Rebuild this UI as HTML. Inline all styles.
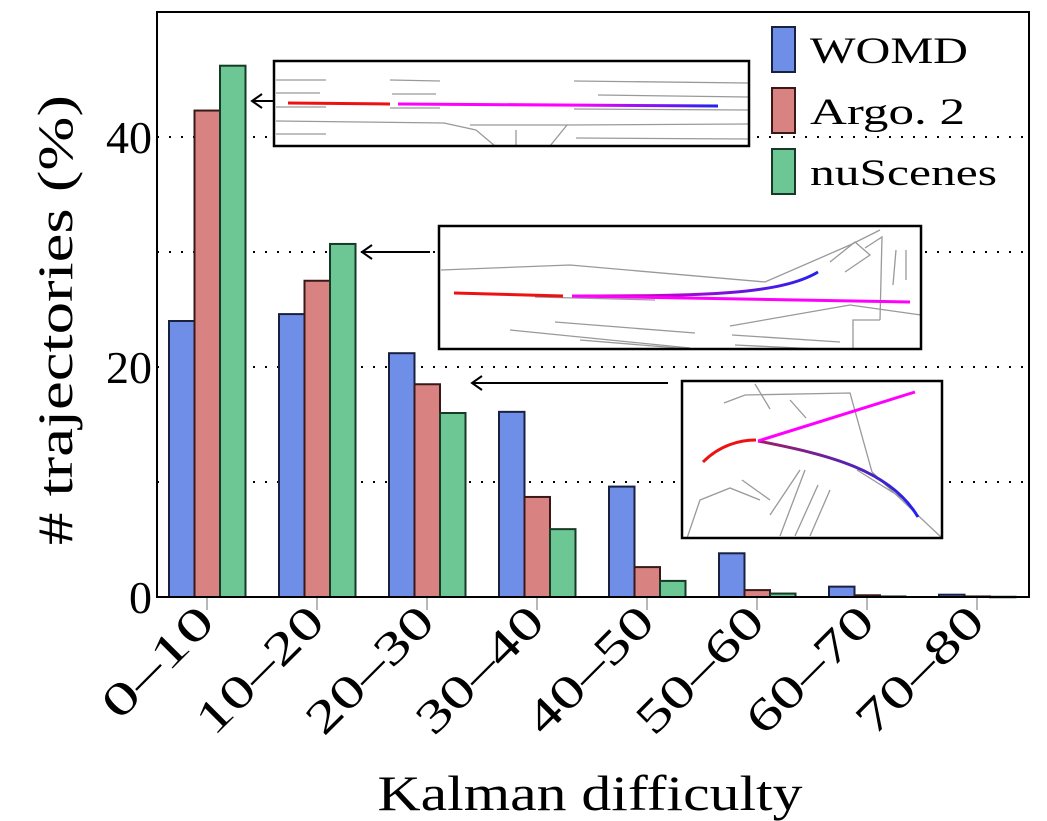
<!DOCTYPE html>
<html><head><meta charset="utf-8"><style>
html,body{margin:0;padding:0;background:#fff;}
svg{display:block;font-family:"Liberation Serif","DejaVu Serif",serif;}
</style></head><body>
<svg id="chart" width="1047" height="821" viewBox="0 0 1047 821" xmlns="http://www.w3.org/2000/svg">
<defs>
  <clipPath id="c1"><rect x="274" y="61" width="475" height="85"/></clipPath>
  <clipPath id="c2"><rect x="439" y="226" width="482" height="123"/></clipPath>
  <clipPath id="c3"><rect x="682" y="381" width="260" height="157"/></clipPath>
  <linearGradient id="g1" x1="0" x2="1"><stop offset="0.55" stop-color="#f0f"/><stop offset="1" stop-color="#22e"/></linearGradient>
  <linearGradient id="g2" x1="0" x2="1"><stop offset="0.3" stop-color="#c0c"/><stop offset="1" stop-color="#22e"/></linearGradient>
  <linearGradient id="g3" x1="0" x2="1"><stop offset="0" stop-color="#a02060"/><stop offset="1" stop-color="#22e"/></linearGradient>
</defs>
<g id="grid"></g>
<g id="bars"></g>
<g id="insets">
  <g>
    <rect x="274" y="61" width="475" height="85" fill="#fff"/>
    <g stroke="#999" stroke-width="1.3" fill="none" clip-path="url(#c1)">
      <line x1="276" y1="80" x2="326" y2="80"/><line x1="276" y1="93" x2="320" y2="93"/><line x1="276" y1="107" x2="326" y2="107"/><line x1="276" y1="134" x2="326" y2="134"/>
      <line x1="390" y1="80" x2="440" y2="81"/><line x1="392" y1="94" x2="436" y2="94"/><line x1="390" y1="108" x2="440" y2="108"/>
      <line x1="574" y1="81" x2="748" y2="83"/><line x1="598" y1="95" x2="748" y2="97"/><line x1="574" y1="109" x2="748" y2="110"/><line x1="576" y1="138" x2="748" y2="139"/>
      <polyline points="276,121 444,123 476,130"/><polyline points="470,125 567,125 550,146"/><line x1="476" y1="130" x2="495" y2="146"/><line x1="516" y1="130" x2="516" y2="146"/><polyline points="567,125 748,124"/>
    </g>
    <line x1="288" y1="103" x2="390" y2="104" stroke="#e11" stroke-width="3"/>
    <line x1="398" y1="104" x2="718" y2="106" stroke="url(#g1)" stroke-width="3"/>
    <rect x="274" y="61" width="475" height="85" fill="none" stroke="#000" stroke-width="2.5"/>
  </g>
  <g>
    <rect x="439" y="226" width="482" height="123" fill="#fff"/>
    <g stroke="#999" stroke-width="1.3" fill="none" clip-path="url(#c2)">
      <polyline points="441,270 570,265 765,282 850,245 880,230"/><polyline points="830,262 855,242 870,255 845,272"/><polyline points="865,248 882,237 880,320"/>
      <line x1="535" y1="297" x2="655" y2="300"/><line x1="555" y1="322" x2="695" y2="333"/><line x1="510" y1="330" x2="690" y2="348"/><line x1="580" y1="340" x2="690" y2="349"/>
      <line x1="732" y1="335" x2="840" y2="342"/><line x1="735" y1="345" x2="840" y2="350"/><polyline points="730,326 850,305 921,315"/>
      <line x1="896" y1="250" x2="893" y2="285"/><line x1="906" y1="250" x2="906" y2="280"/><polyline points="853,348 853,320 880,320"/>
    </g>
    <line x1="454" y1="293" x2="563" y2="296" stroke="#e11" stroke-width="3"/>
    <path d="M572,296 C700,296 780,295 818,272" stroke="url(#g2)" stroke-width="3" fill="none"/>
    <line x1="572" y1="296" x2="910" y2="302" stroke="#f0f" stroke-width="3"/>
    <rect x="439" y="226" width="482" height="123" fill="none" stroke="#000" stroke-width="2.5"/>
  </g>
  <g>
    <rect x="682" y="381" width="260" height="157" fill="#fff"/>
    <g stroke="#999" stroke-width="1.3" fill="none" clip-path="url(#c3)">
      <polyline points="724,403 745,395 850,393 872,472 942,538"/><line x1="755" y1="384" x2="770" y2="409"/><line x1="790" y1="400" x2="806" y2="418"/>
      <polyline points="684,547 700,500 730,488 760,500"/><line x1="770" y1="515" x2="800" y2="470"/><line x1="780" y1="536" x2="805" y2="470"/><line x1="795" y1="536" x2="818" y2="485"/><line x1="810" y1="536" x2="830" y2="490"/>
      <line x1="857" y1="470" x2="905" y2="500"/><line x1="742" y1="480" x2="770" y2="500"/>
    </g>
    <path d="M703,462 C720,445 740,440 756,440" stroke="#e11" stroke-width="3" fill="none"/>
    <path d="M758,441 C830,455 890,470 918,517" stroke="url(#g3)" stroke-width="3" fill="none"/>
    <line x1="758" y1="441" x2="915" y2="392" stroke="#f0f" stroke-width="3"/>
    <rect x="682" y="381" width="260" height="157" fill="none" stroke="#000" stroke-width="2.5"/>
  </g>
</g>
<g stroke="#000" stroke-width="2" fill="none">
  <line x1="273" y1="101" x2="252" y2="101"/><polyline points="262,94 252,101 262,108"/>
  <line x1="430" y1="252" x2="362" y2="252"/><polyline points="372,245 362,252 372,259"/>
  <line x1="668" y1="383" x2="472" y2="383"/><polyline points="482,376 472,383 482,390"/>
</g>
<rect x="157" y="12" width="872" height="585" fill="none" stroke="#000" stroke-width="2"/>
<g id="xticks"></g>
<g id="yticks"></g>
<text x="72" y="320" font-size="50" text-anchor="middle" textLength="450" lengthAdjust="spacingAndGlyphs" transform="rotate(-90 72 320)"># trajectories (%)</text>
<text x="590" y="810" font-size="50" text-anchor="middle" textLength="425" lengthAdjust="spacingAndGlyphs">Kalman difficulty</text>
<g id="legend"></g>
</svg>
<script>
const categories = ["0–10","10–20","20–30","30–40","40–50","50–60","60–70","70–80"];
const womd = [24.0, 24.6, 21.2, 16.1, 9.6, 3.8, 0.9, 0.2];
const argo = [42.3, 27.5, 18.5, 8.7, 2.6, 0.6, 0.15, 0.05];
const nuscenes = [46.2, 30.7, 16.0, 5.9, 1.4, 0.3, 0.05, 0.02];
const seriesNames = ["WOMD","Argo. 2","nuScenes"];
const yTicks = [0, 20, 40];
const gridValues = [10, 20, 30, 40];

const NS = "http://www.w3.org/2000/svg";
const colors = ["#6f8ee8","#d98282","#6cc795"];
const strokes = ["#1a2040","#3a1818","#153a25"];
const legendLens = [158, 155, 187];
function y(v){ return 597 - v * 11.5; }
function x(i){ return 207 + i * 110; }
function mk(tag, attrs, parent){ const e=document.createElementNS(NS,tag); for(const k in attrs) e.setAttribute(k, attrs[k]); parent.appendChild(e); return e; }

const grid=document.getElementById('grid');
gridValues.forEach(v=>{
  const l=mk('line',{x1:157,x2:1029,y1:y(v),y2:y(v),stroke:'#000','stroke-width':2,'stroke-dasharray':'2 10'},grid);
  
  
});
const bars=document.getElementById('bars');
[womd,argo,nuscenes].forEach((s,si)=>{
  s.forEach((v,i)=>{
    const b=mk('rect',{x:x(i)-38+si*25.5,y:y(v),width:25.5,height:Math.max(597-y(v),0.5),fill:colors[si],stroke:strokes[si],'stroke-width':2},bars);
    
    
  });
});
const xt=document.getElementById('xticks');
categories.forEach((c,i)=>{
  mk('line',{x1:x(i),x2:x(i),y1:598,y2:610,stroke:'#888','stroke-width':1.2},xt);
  const len = c.length===4 ? 138 : 160;
  const t=mk('text',{x:x(i)+10,y:624,'font-size':46,'text-anchor':'end',textLength:len,lengthAdjust:'spacingAndGlyphs',transform:`rotate(-45 ${x(i)+10} 624)`},xt);
  t.textContent=c;
  
  
});
const yt=document.getElementById('yticks');
yTicks.forEach(v=>{
  const t=mk('text',{x:152,y:y(v)+16,'font-size':46,'text-anchor':'end'},yt);
  t.textContent=v;
  
  
});
const lg=document.getElementById('legend');
seriesNames.forEach((n,i)=>{
  const yy=27+i*61;
  const r=mk('rect',{x:772,y:yy,width:23,height:45,fill:colors[i],stroke:strokes[i],'stroke-width':2},lg);
  
  
  const t=mk('text',{x:810,y:yy+36,'font-size':37,textLength:legendLens[i],lengthAdjust:'spacingAndGlyphs'},lg);
  t.textContent=n;
  
  
});
</script>
</body></html>
